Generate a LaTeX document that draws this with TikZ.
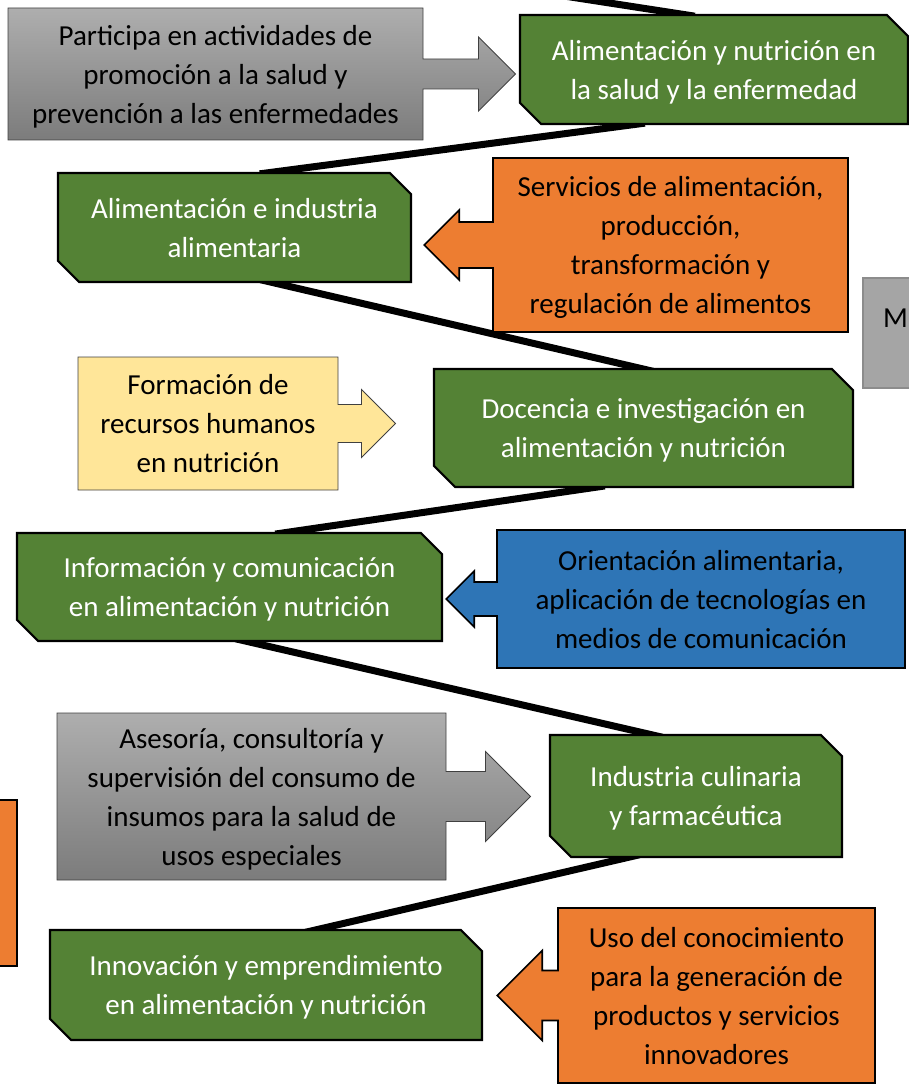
\documentclass[tikz,border=0pt]{standalone}
\usepackage{fontspec}
\setmainfont{Carlito}
\usepackage{tikz}
\usetikzlibrary{positioning, shapes.misc, shapes.arrows, backgrounds}
\definecolor{verde}{RGB}{84,130,53}
\definecolor{naranja}{RGB}{237,125,49}
\definecolor{azul}{RGB}{46,117,182}
\definecolor{amarillo}{RGB}{255,230,153}
\definecolor{gris}{RGB}{165,165,165}
\tikzset{ % global config
    x=1pt, y=1pt, % one unit is one pixel of the layout
    every node/.style={font=\fontsize{29}{39}\selectfont, align=center, inner sep=0pt, text depth=0pt}, % text of every box
    area/.style={chamfered rectangle, chamfered rectangle corners={north east, south west}, chamfered rectangle xsep=18pt, draw=black, line width=2.2pt, fill=verde, text=white}, % green topic boxes
    call/.style={arrow box, arrow box north arrow=0pt, arrow box south arrow=0pt, arrow box east arrow=0pt, arrow box west arrow=0pt, arrow box tip angle=90}, % boxes pointing at a topic
    grisbox/.style={call, top color=gris!90!white, bottom color=gris!75!black, draw=black!75, line width=0.9pt}, % gray boxes
    orbox/.style={call, fill=naranja, draw=black, line width=1.6pt}, % orange boxes
    azbox/.style={call, fill=azul, draw=black, line width=1.6pt}, % blue box
    amabox/.style={call, fill=amarillo, draw=black!75, line width=0.9pt}, % yellow box
    link/.style={line width=7pt, black, shorten <=-15pt, shorten >=-15pt}, % thick zigzag behind the boxes
}

\begin{document}
\begin{tikzpicture}
	\useasboundingbox (0,0) rectangle (909,-1086);
	\clip (0,0) rectangle (909,-1086);

		\node[area, minimum width=388, minimum height=109] (n1) at (714,-69.5) {Alimentación y nutrición en\\la salud y la enfermedad};
		\node[area, minimum width=353, minimum height=109] (n2) at (234.5,-227.5) {Alimentación e industria\\alimentaria};
		\node[area, minimum width=419, minimum height=118] (n3) at (643.5,-428) {Docencia e investigación en\\alimentación y nutrición};
		\node[area, minimum width=425, minimum height=108] (n4) at (229.5,-587) {Información y comunicación\\en alimentación y nutrición};
		\node[area, minimum width=292, minimum height=122] (n5) at (696,-796) {Industria culinaria\\y farmacéutica};
		\node[area, minimum width=432, minimum height=110] (n6) at (266,-985) {Innovación y emprendimiento\\en alimentación y nutrición};
		\node[area, fill=gris, draw=black!45, line width=1.5pt, minimum width=388, minimum height=110, anchor=north west] (n7) at (862,-277) {};
		\node[anchor=west] (m) at (883,-318) {M};

		\node[grisbox, minimum width=415, minimum height=132, arrow box east arrow=92pt, arrow box shaft width=30pt, arrow box head extend=22pt] (g1) at (215.5,-74) {Participa en actividades de\\promoción a la salud y\\prevención a las enfermedades};
		\node[orbox, minimum width=355, minimum height=174, arrow box west arrow=68pt, arrow box shaft width=46pt, arrow box head extend=12pt] (o1) at (670.5,-245) {Servicios de alimentación,\\producción,\\transformación y\\regulación de alimentos};
		\node[amabox, minimum width=260, minimum height=133, arrow box east arrow=57pt, arrow box shaft width=38pt, arrow box head extend=15pt] (f1) at (208,-423.5) {Formación de\\recursos humanos\\en nutrición};
		\node[azbox, minimum width=408, minimum height=138, arrow box west arrow=50pt, arrow box shaft width=34pt, arrow box head extend=11pt] (b1) at (701,-599) {Orientación alimentaria,\\aplicación de tecnologías en\\medios de comunicación};
		\node[grisbox, minimum width=389, minimum height=167, arrow box east arrow=84pt, arrow box shaft width=50pt, arrow box head extend=20pt] (g2) at (251.5,-796.5) {Asesoría, consultoría y\\supervisión del consumo de\\insumos para la salud de\\usos especiales};
		\node[orbox, minimum width=317, minimum height=175, arrow box west arrow=60pt, arrow box shaft width=50pt, arrow box head extend=20pt] (o2) at (716.5,-995.5) {Uso del conocimiento\\para la generación de\\productos y servicios\\innovadores};
		\node[orbox, minimum width=200, minimum height=166, anchor=east] (o3) at (18,-883) {};

		\coordinate (prev) at (480,17);
		\begin{scope}[on background layer]
		\clip (0,0) rectangle (909,-1086);
		\draw (prev) edge[link] ([xshift=-34]n1.north)
		([xshift=-84]n1.south) edge[link] ([xshift=40]n2.north)
		([xshift=40.5]n2.south) edge[link] ([xshift=-5]n3.north)
		([xshift=-53.5]n3.south) edge[link] ([xshift=60.5]n4.north)
		([xshift=20.5]n4.south) edge[link] ([xshift=-48]n5.north)
		([xshift=-71]n5.south) edge[link] ([xshift=54]n6.north);
		\end{scope}

\end{tikzpicture}
\end{document}
